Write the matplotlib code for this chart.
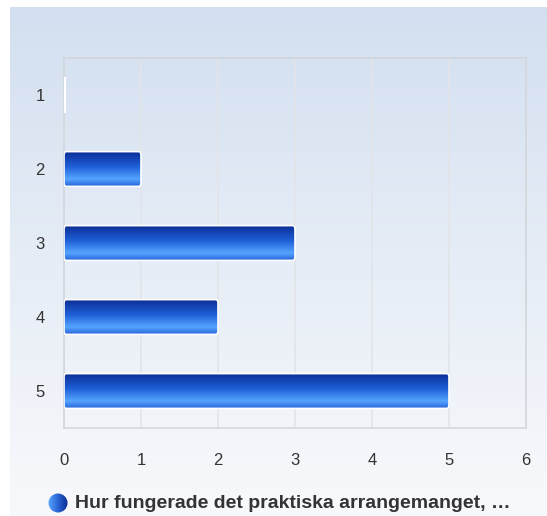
import numpy as np
import matplotlib.pyplot as plt
from matplotlib.colors import LinearSegmentedColormap
from matplotlib.patches import FancyBboxPatch

plt.rcParams['font.family'] = ['Liberation Sans', 'DejaVu Sans']

# data
categories = ['1', '2', '3', '4', '5']
values = [0, 1, 3, 2, 5]
legend_label = 'Hur fungerade det praktiska arrangemanget, …'

W, H = 547, 516
fig = plt.figure(figsize=(W / 100, H / 100), dpi=100)
fig.patch.set_facecolor('white')

# background gradient
bg = fig.add_axes([10 / W, 0, (W - 10) / W, (H - 7) / H], zorder=0)
bg_cmap = LinearSegmentedColormap.from_list('bg', ['#d3dff0', '#e6edf6', '#f8f9fc'])
bg.imshow(np.linspace(0, 1, 256).reshape(-1, 1), cmap=bg_cmap, aspect='auto',
          extent=[0, 1, 0, 1], origin='upper')
bg.set_axis_off()

# plot area
left, right, top, bottom = 64, 526, 58, 428
ax = fig.add_axes([left / W, 1 - bottom / H, (right - left) / W, (bottom - top) / H], zorder=1)
ax.patch.set_alpha(0)
ax.set_xticks(range(7))
ax.set_yticks(range(len(categories)))
ax.set_yticklabels(categories)
ax.grid(axis='x', color='#e2e4e8', linewidth=1.2)
ax.set_axisbelow(True)
for s in ax.spines.values():
    s.set_color('#d3d7dc')
    s.set_linewidth(1.2)
ax.tick_params(length=0, labelsize=12, colors='#333333', pad=14)
ax.tick_params(axis='x', pad=18)

bar_cmap = LinearSegmentedColormap.from_list(
    'bar', [(0, '#0b2c94'), (0.45, '#1f60d8'), (0.8, '#55a4ff'), (1, '#2a68dc')])
grad = np.linspace(0, 1, 128).reshape(-1, 1)
h = 0.47
for i, v in enumerate(values):
    if v <= 0:
        ax.plot([0.01, 0.01], [i - h / 2, i + h / 2], color='white', lw=1.5, zorder=3)
        continue
    box = FancyBboxPatch((0, i - h / 2), v, h, boxstyle='round,pad=0,rounding_size=0.03',
                         mutation_aspect=h / 0.3, facecolor='none',
                         edgecolor='white', linewidth=1.2, zorder=4)
    ax.add_patch(box)
    im = ax.imshow(grad, cmap=bar_cmap, aspect='auto', origin='upper',
                   extent=[0, v, i + h / 2, i - h / 2], zorder=3)
    im.set_clip_path(box)

ax.set_xlim(0, 6)
ax.set_ylim(len(categories) - 0.5, -0.5)

# legend
lx, ly = 58, 503
mk = fig.add_axes([(lx - 10) / W, 1 - (ly + 10) / H, 20 / W, 20 / H], zorder=2)
mk.set_xlim(-1, 1)
mk.set_ylim(-1, 1)
mk.set_aspect('equal')
mk.set_axis_off()
circ = plt.Circle((0, 0), 0.95, transform=mk.transData, facecolor='none', edgecolor='none')
mk.add_patch(circ)
mimg = mk.imshow(np.linspace(0, 1, 64).reshape(1, -1),
                 cmap=LinearSegmentedColormap.from_list('m', ['#5aa8ff', '#2a64d4', '#0b2c94']),
                 extent=[-1, 1, -1, 1], aspect='auto')
mimg.set_clip_path(circ)
fig.text(75 / W, 1 - ly / H, legend_label, fontsize=14, fontweight='bold',
         color='#333333', va='center', ha='left')

fig.savefig('out.png', dpi=100)
